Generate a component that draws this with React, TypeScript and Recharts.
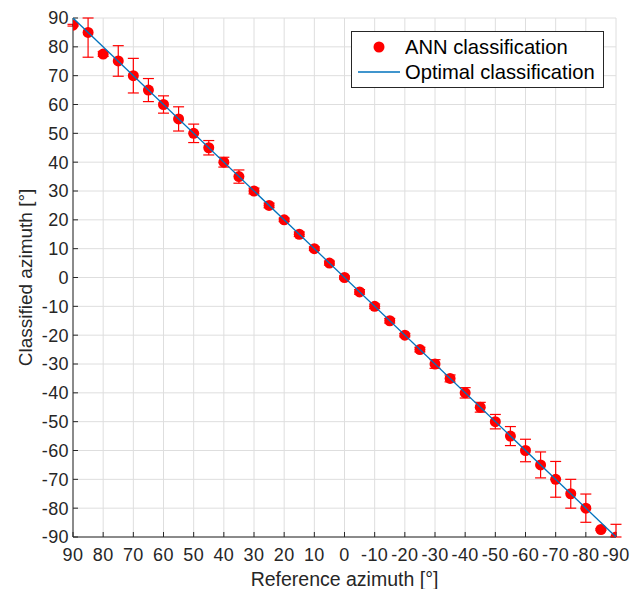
import React from "react"
import {
    ScatterChart,
    Scatter,
    ErrorBar,
    XAxis,
    YAxis,
    CartesianGrid,
    Legend,
} from "recharts"

// reference azimuth (x), classified azimuth (y), error below / above
const referenceAz = [90, 85, 80, 75, 70, 65, 60, 55, 50, 45, 40, 35, 30, 25, 20, 15, 10, 5, 0, -5, -10, -15, -20, -25, -30, -35, -40, -45, -50, -55, -60, -65, -70, -75, -80, -85, -90]
const classifiedAz = [87.5, 85, 77.5, 75.1, 70, 65, 60, 55, 50, 45, 40, 35, 30, 25, 20, 15, 10, 5, 0, -5, -10, -15, -20, -25, -30, -35, -40, -45, -50, -55, -60, -65, -70, -75, -80, -87.4, -90]
const errLow = [0.3, 8.6, 0.8, 5.3, 6, 4, 3, 4.2, 3.2, 2.5, 1.7, 2.3, 1, 0.8, 0.6, 0.8, 0.6, 0.7, 0.5, 0.8, 0.8, 0.8, 0.6, 0.8, 1.5, 1.2, 1.8, 1.7, 2.5, 3.3, 3.9, 4.5, 6.2, 5, 4.9, 0.3, 0]
const errHigh = [0.3, 5, 0.8, 5.3, 6, 4, 3, 4.2, 3.2, 2.5, 1.7, 2.3, 1, 0.8, 0.6, 0.8, 0.6, 0.7, 0.5, 0.8, 0.8, 0.8, 0.6, 0.8, 1.5, 1.2, 1.8, 1.7, 2.5, 3.3, 3.9, 4.5, 6.2, 5, 4.9, 0.3, 4.4]
const optimalX = [90, -90]
const optimalY = [90, -90]
const axisTicks = [-90, -80, -70, -60, -50, -40, -30, -20, -10, 0, 10, 20, 30, 40, 50, 60, 70, 80, 90]

const FONT = "'Liberation Sans', Arial, sans-serif"
const INK = "#262626"
const RED = "#ff0000"
const BLUE = "#0072BD"

const annData = referenceAz.map((x, i) => ({ x, y: classifiedAz[i], err: [errLow[i], errHigh[i]] }))
const optimalData = optimalX.map((x, i) => ({ x, y: optimalY[i] }))

// eslint-disable-next-line @typescript-eslint/no-explicit-any
function RedDot({ cx, cy }: any) {
    return <circle cx={cx} cy={cy} r={5.5} fill={RED} />
}

function NoDot() {
    return <g />
}

// eslint-disable-next-line @typescript-eslint/no-explicit-any
function YTitle({ viewBox }: any) {
    const cx = 25
    const cy = viewBox.y + viewBox.height / 2
    return (
        <text x={cx} y={cy} transform={`rotate(-90, ${cx}, ${cy})`} textAnchor="middle"
            dominantBaseline="central" fill={INK} fontSize={19} fontFamily={FONT}>
            Classified azimuth [°]
        </text>
    )
}

function LegendBox() {
    return (
        <svg width={253} height={57} style={{ display: "block" }}>
            <rect x={0.5} y={0.5} width={252} height={56} fill="#fff" stroke={INK} strokeWidth={1} />
            <circle cx={28} cy={16} r={5.5} fill={RED} />
            <text x={54} y={16} dominantBaseline="central" fontSize={20.2} fontFamily={FONT} fill="#000">
                ANN classification
            </text>
            <line x1={7} y1={41} x2={49} y2={41} stroke={BLUE} strokeWidth={1.3} />
            <text x={54} y={41} dominantBaseline="central" fontSize={20.2} fontFamily={FONT} fill="#000">
                Optimal classification
            </text>
        </svg>
    )
}

export default function App() {
    const tickStyle = { fill: INK, fontSize: 18, fontFamily: FONT, letterSpacing: 0.4 }
    return (
        <div style={{ position: "absolute", left: 0, top: 0, background: "#fff" }}>
            <ScatterChart width={636} height={589} margin={{ top: 18, right: 20, bottom: 0, left: 0 }}>
                <CartesianGrid stroke="#dedede" strokeWidth={1} />
                <XAxis
                    type="number"
                    dataKey="x"
                    domain={[-90, 90]}
                    ticks={axisTicks}
                    reversed
                    allowDataOverflow
                    height={52}
                    stroke={INK}
                    tickSize={-5}
                    tickMargin={16}
                    tick={tickStyle}
                    interval={0}
                    label={{ value: "Reference azimuth [°]", position: "insideBottom", offset: 3, fill: INK, fontSize: 19.5, fontFamily: FONT }}
                />
                <YAxis
                    type="number"
                    dataKey="y"
                    domain={[-90, 90]}
                    ticks={axisTicks}
                    allowDataOverflow
                    width={73}
                    stroke={INK}
                    tickSize={-5}
                    tickMargin={9}
                    tick={tickStyle}
                    interval={0}
                    label={<YTitle />}
                />
                <XAxis
                    xAxisId="top"
                    orientation="top"
                    type="number"
                    dataKey="x"
                    domain={[-90, 90]}
                    ticks={axisTicks}
                    reversed
                    allowDataOverflow
                    height={0}
                    stroke={INK}
                    tickSize={-5}
                    tick={false}
                    interval={0}
                />
                <YAxis
                    yAxisId="right"
                    orientation="right"
                    type="number"
                    dataKey="y"
                    domain={[-90, 90]}
                    ticks={axisTicks}
                    allowDataOverflow
                    width={0}
                    stroke={INK}
                    tickSize={-5}
                    tick={false}
                    interval={0}
                />
                <Legend
                    layout="vertical"
                    align="center"
                    verticalAlign="middle"
                    wrapperStyle={{ top: 31, left: 351, width: 253, height: 57 }}
                    content={() => <LegendBox />}
                />
                <Scatter name="ANN classification" data={annData} shape={<RedDot />} isAnimationActive={false}>
                    <ErrorBar dataKey="err" direction="y" width={5.5} stroke={RED} strokeWidth={1.2} />
                </Scatter>
                <Scatter
                    name="Optimal classification"
                    data={optimalData}
                    line={{ stroke: BLUE, strokeWidth: 1.3 }}
                    shape={<NoDot />}
                    isAnimationActive={false}
                />
            </ScatterChart>
        </div>
    )
}
